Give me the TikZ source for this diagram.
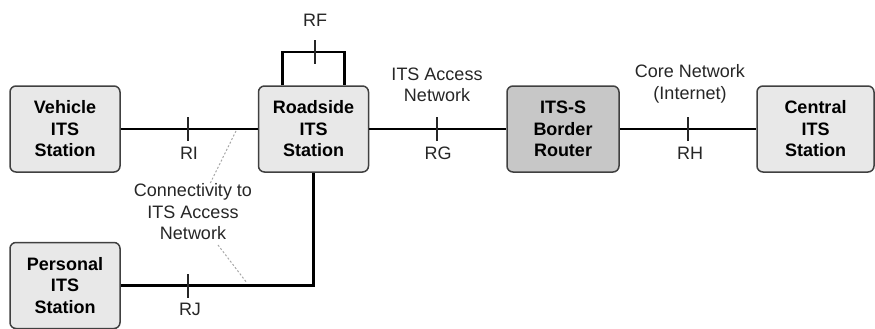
\documentclass[tikz,border=0pt]{standalone}
\usepackage{fontspec}
\setmainfont{Liberation Sans}
\begin{document}
\begin{tikzpicture}[x=1pt,y=-1pt,
  box/.style={draw=black!75,line width=1.5pt,rounded corners=6pt,fill=black!9,
    minimum height=86pt,inner sep=0pt,align=center,
    font=\fontsize{18}{21.5}\selectfont\bfseries},
  darkbox/.style={box,fill=black!22},
  link/.style={line width=2.6pt,black},
  tick/.style={line width=1.3pt,black!85},
  lbl/.style={align=center,text=black!85,font=\fontsize{18}{21.5}\selectfont,inner sep=0pt},
  hint/.style={gray!70,line width=1pt,dash pattern=on 2pt off 2pt}]
\useasboundingbox (0,0) rectangle (875,329);
\node[box,minimum width=110pt] (v) at (65,129) {Vehicle\\ITS\\Station};
\node[box,minimum width=110pt] (r) at (313.5,129) {Roadside\\ITS\\Station};
\node[darkbox,minimum width=112pt] (b) at (563,129) {ITS-S\\Border\\Router};
\node[box,minimum width=117pt] (c) at (815.5,129) {Central\\ITS\\Station};
\node[box,minimum width=110pt] (p) at (65,285.5) {Personal\\ITS\\Station};
% connectors
\draw[link] (v) -- (r);
\draw[link] (r) -- (b);
\draw[link] (b) -- (c);
\draw[link] (r.south) |- (p.east);
\draw[link] ([xshift=-31]r.north) |- (313.5,52) -| ([xshift=31]r.north);
% ticks
\coordinate (tRI) at (188,129);
\coordinate (tRG) at (437,129);
\coordinate (tRH) at (688,129);
\coordinate (tRJ) at (188,285.5);
\coordinate (tRF) at (315,52);
\foreach \t in {tRI,tRG,tRH,tRJ,tRF}
  \draw[tick] ([yshift=-12]\t) -- ([yshift=12]\t);
% labels
\node[lbl] (lRI) at (189,153) {RI};
\node[lbl] (lRG) at (438,153) {RG};
\node[lbl] (lRH) at (690,153) {RH};
\node[lbl] (lRJ) at (190,309) {RJ};
\node[lbl] (lRF) at (315,20) {RF};
\node[lbl] (lAN) at (437,85) {ITS Access\\Network};
\node[lbl] (lCN) at (690,84) {Core Network\\(Internet)};
\node[lbl] (lCT) at (193,212) {Connectivity to\\ITS Access\\Network};
% hint lines
\coordinate (h1) at (236,131);
\coordinate (h2) at (247,283);
\draw[hint] (h1) -- (lCT.north -| 210,0) ;
\draw[hint] (218,245) -- (h2);
\end{tikzpicture}
\end{document}
